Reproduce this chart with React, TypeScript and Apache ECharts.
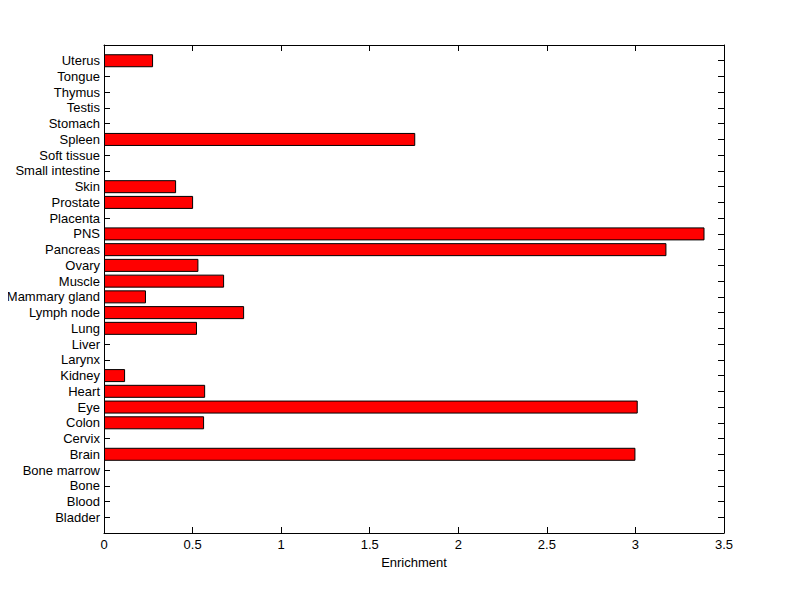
import React, { useEffect, useRef } from "react";
import * as echarts from "echarts";

const categories = [
  "Bladder", "Blood", "Bone", "Bone marrow", "Brain", "Cervix", "Colon", "Eye", "Heart", "Kidney",
  "Larynx", "Liver", "Lung", "Lymph node", "Mammary gland", "Muscle", "Ovary", "Pancreas", "PNS",
  "Placenta", "Prostate", "Skin", "Small intestine", "Soft tissue", "Spleen", "Stomach", "Testis",
  "Thymus", "Tongue", "Uterus",
];
const enrichment = [
  0, 0, 0, 0, 3.0, 0, 0.565, 3.013, 0.571, 0.119,
  0, 0, 0.525, 0.791, 0.237, 0.678, 0.533, 3.175, 3.39,
  0, 0.503, 0.407, 0, 0, 1.757, 0, 0,
  0, 0, 0.277,
];
const xTicks = [0, 0.5, 1, 1.5, 2, 2.5, 3, 3.5];
const xName = "Enrichment";

export default function App() {
  const ref = useRef<HTMLDivElement>(null);
  useEffect(() => {
    if (!ref.current) return;
    const chart = echarts.init(ref.current, null, { renderer: "svg" });
    const cats = ["", ...categories, ""];
    const data = ["-", ...enrichment.map((v) => (v === 0 ? "-" : v)), "-"];
    const font = "Liberation Sans, Arial, sans-serif";
    const line = { show: true, onZero: false, lineStyle: { color: "#000", width: 1 } };
    const tick = { show: true, inside: true, length: 6, lineStyle: { color: "#000" } };
    chart.setOption({
      animation: false,
      backgroundColor: "#ffffff",
      grid: { left: 104, right: 76, top: 45, bottom: 66, containLabel: false },
      xAxis: [
        {
          type: "value",
          min: 0,
          max: 3.5,
          interval: 0.5,
          position: "bottom",
          name: xName,
          nameLocation: "middle",
          nameGap: 23,
          nameTextStyle: { color: "#000", fontSize: 13, fontFamily: font },
          axisLine: line,
          axisTick: tick,
          axisLabel: {
            color: "#000", fontSize: 13, fontFamily: font, margin: 5,
            formatter: (v: number) => (xTicks.includes(v) ? String(v) : ""),
          },
          splitLine: { show: false },
        },
        {
          type: "value",
          min: 0,
          max: 3.5,
          interval: 0.5,
          position: "top",
          axisLine: line,
          axisTick: tick,
          axisLabel: { show: false },
          splitLine: { show: false },
        },
      ],
      yAxis: [
        {
          type: "category",
          data: cats,
          boundaryGap: false,
          position: "left",
          axisLine: line,
          axisTick: { ...tick, interval: 0 },
          axisLabel: { color: "#000", fontSize: 13, fontFamily: font, margin: 4, interval: 0 },
          splitLine: { show: false },
        },
        {
          type: "category",
          data: cats,
          boundaryGap: false,
          position: "right",
          axisLine: line,
          axisTick: { ...tick, interval: 0 },
          axisLabel: { show: false },
          splitLine: { show: false },
        },
      ],
      series: [
        {
          type: "bar",
          xAxisIndex: 0,
          yAxisIndex: 0,
          data,
          barWidth: 13,
          itemStyle: { color: "#ff0000", borderColor: "#000", borderWidth: 1 },
        },
      ],
    });
    return () => chart.dispose();
  }, []);
  return <div ref={ref} style={{ width: 800, height: 599, margin: -8 }} />;
}
